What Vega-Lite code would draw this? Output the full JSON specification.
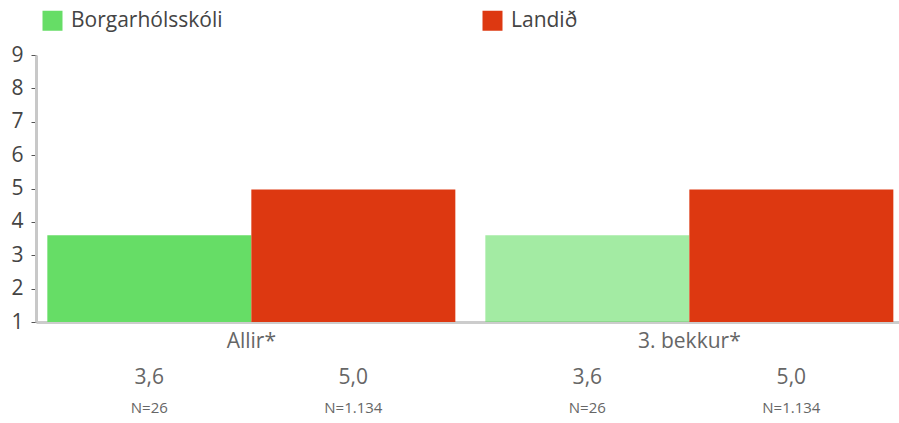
{
  "$schema": "https://vega.github.io/schema/vega-lite/v6.json",
  "autosize": "none",
  "width": 863,
  "height": 267,
  "padding": {"left": 36, "top": 55, "right": 0, "bottom": 101},
  "background": "white",
  "config": {
    "view": {"stroke": null},
    "font": "Open Sans",
    "axisY": {
      "title": null, "values": [1, 2, 3, 4, 5, 6, 7, 8, 9], "grid": false,
      "labelOverlap": false, "tickCount": 9,
      "domainColor": "#c8c8c8", "domainWidth": 3,
      "tickColor": "#555555", "tickSize": 5, "tickWidth": 1,
      "labelFontSize": 21, "labelColor": "#444444", "labelPadding": 8,
      "labelFont": "Open Sans"
    }
  },
  "data": {
    "values": [
      {"hopur": "Allir*", "rod": "Borgarhólsskóli", "gildi": 3.6, "texti": "3,6", "n": "N=26"},
      {"hopur": "Allir*", "rod": "Landið", "gildi": 4.97, "texti": "5,0", "n": "N=1.134"},
      {"hopur": "3. bekkur*", "rod": "Borgarhólsskóli", "gildi": 3.6, "texti": "3,6", "n": "N=26"},
      {"hopur": "3. bekkur*", "rod": "Landið", "gildi": 4.97, "texti": "5,0", "n": "N=1.134"}
    ]
  },
  "encoding": {
    "x": {
      "field": "hopur", "type": "nominal", "sort": ["Allir*", "3. bekkur*"],
      "scale": {"paddingInner": 0.0685, "paddingOuter": 0.0194, "align": 0.667},
      "axis": {
        "title": null, "labelAngle": 0, "ticks": false,
        "domainColor": "#cccccc", "domainWidth": 3,
        "labelFontSize": 21, "labelColor": "#666666", "labelPadding": 8,
        "labelFont": "Open Sans"
      }
    },
    "xOffset": {"field": "rod", "type": "nominal", "sort": ["Borgarhólsskóli", "Landið"], "scale": {"paddingInner": 0, "paddingOuter": 0}}
  },
  "layer": [
    {
      "mark": {"type": "bar"},
      "encoding": {
        "y": {
          "field": "gildi", "type": "quantitative",
          "scale": {"domain": [1, 9], "zero": false, "nice": false},
          "axis": {"title": null, "values": [1, 2, 3, 4, 5, 6, 7, 8, 9], "labelOverlap": false}
        },
        "y2": {"datum": 1},
        "color": {
          "field": "rod", "type": "nominal",
          "scale": {"domain": ["Borgarhólsskóli", "Landið"], "range": ["#66DD66", "#DD3811"]},
          "legend": {
            "title": null, "orient": "none", "direction": "horizontal",
            "legendX": 6, "legendY": -45,
            "symbolType": "square", "symbolSize": 400, "symbolOpacity": 1,
            "symbolStrokeWidth": 0,
            "labelFontSize": 21, "labelColor": "#444444", "labelFont": "Open Sans",
            "labelOffset": 8, "columnPadding": 259
          }
        },
        "opacity": {
          "condition": {"test": "datum.hopur === '3. bekkur*' && datum.rod === 'Borgarhólsskóli'", "value": 0.6},
          "value": 1
        }
      }
    },
    {
      "mark": {"type": "text", "baseline": "middle", "dy": 56, "fontSize": 21, "color": "#666666", "font": "Open Sans"},
      "encoding": {
        "y": {"datum": 1, "axis": {"title": null, "values": [1, 2, 3, 4, 5, 6, 7, 8, 9], "labelOverlap": false}},
        "text": {"field": "texti"}
      }
    },
    {
      "mark": {"type": "text", "baseline": "middle", "dy": 86, "fontSize": 15, "color": "#666666", "font": "Open Sans"},
      "encoding": {
        "y": {"datum": 1, "axis": {"title": null, "values": [1, 2, 3, 4, 5, 6, 7, 8, 9], "labelOverlap": false}},
        "text": {"field": "n"}
      }
    }
  ]
}
